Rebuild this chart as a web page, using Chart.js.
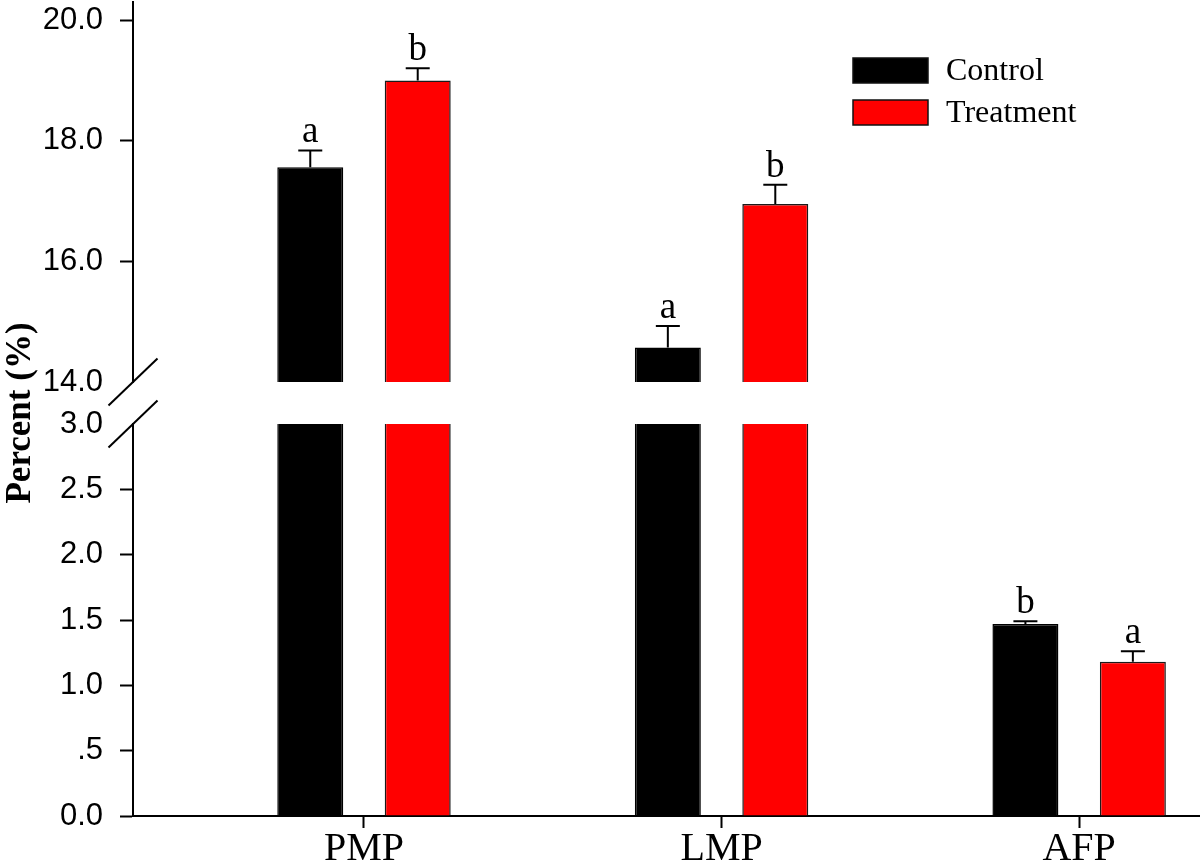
<!DOCTYPE html>
<html>
<head>
<meta charset="utf-8">
<script src="https://cdn.jsdelivr.net/npm/chart.js@4.4.1/dist/chart.umd.min.js"></script>
<style>
  html, body { margin: 0; padding: 0; background: #fff; }
  #wrap { position: relative; width: 1200px; height: 864px; overflow: hidden; background: #fff; }
  #wrap canvas { position: absolute; left: 0; top: 0; }
</style>
</head>
<body>
<div id="wrap">
  <canvas id="upper" width="1200" height="864"></canvas>
  <canvas id="lower" width="1200" height="864"></canvas>
</div>
<script>
// ---------------- data ----------------
const categories = ['PMP', 'LMP', 'AFP'];
const seriesNames = ['Control', 'Treatment'];
const controlValues = [17.56, 14.57, 1.47];
const treatmentValues = [19.00, 16.95, 1.18];
const controlErrors = [0.28, 0.36, 0.02];
const treatmentErrors = [0.20, 0.32, 0.08];
const controlLetters = ['a', 'a', 'b'];
const treatmentLetters = ['b', 'b', 'a'];
const upperTickValues = [14, 16, 18, 20];
const upperTickLabels = ['14.0', '16.0', '18.0', '20.0'];
const lowerTickValues = [0, 0.5, 1, 1.5, 2, 2.5, 3];
const lowerTickLabels = ['0.0', '.5', '1.0', '1.5', '2.0', '2.5', '3.0'];
const yAxisTitle = 'Percent (%)';

// ---------------- styling ----------------
const SERIF = '"Liberation Serif", "Times New Roman", serif';
const SANS = '"Liberation Sans", Arial, sans-serif';
const seriesColors = ['#000000', '#ff0000'];
const seriesBorders = ['#000000', '#1a1a1a'];
const AXIS_LEFT = 133;

function makeDatasets() {
  const vals = [controlValues, treatmentValues];
  const errs = [controlErrors, treatmentErrors];
  const lets = [controlLetters, treatmentLetters];
  return seriesNames.map((name, s) => ({
    label: name,
    data: categories.map((c, i) => ({ x: i, y: vals[s][i] })),
    errors: errs[s],
    letters: lets[s],
    backgroundColor: seriesColors[s],
    borderColor: seriesBorders[s],
    borderWidth: 1.5,
    categoryPercentage: 0.601,
    barPercentage: 0.614,
    clip: 0
  }));
}

const errorBarPlugin = {
  id: 'errorBars',
  afterDatasetsDraw(chart) {
    const ctx = chart.ctx;
    const yScale = chart.scales.y;
    ctx.save();
    chart.data.datasets.forEach((ds, di) => {
      const meta = chart.getDatasetMeta(di);
      meta.data.forEach((bar, i) => {
        const v = ds.data[i].y;
        if (v < yScale.min || v > yScale.max) return;
        const e = ds.errors[i];
        const yTop = yScale.getPixelForValue(v + e);
        const yVal = yScale.getPixelForValue(v);
        ctx.strokeStyle = '#000';
        ctx.lineWidth = 2;
        ctx.beginPath();
        ctx.moveTo(bar.x, yVal);
        ctx.lineTo(bar.x, yTop);
        ctx.moveTo(bar.x - 12, yTop);
        ctx.lineTo(bar.x + 12, yTop);
        ctx.stroke();
        ctx.fillStyle = '#000';
        ctx.font = '37px ' + SERIF;
        ctx.textAlign = 'center';
        ctx.textBaseline = 'alphabetic';
        ctx.fillText(ds.letters[i], bar.x, yTop - 8);
      });
    });
    ctx.restore();
  }
};

const legendPlugin = {
  id: 'customLegend',
  afterDraw(chart) {
    const ctx = chart.ctx;
    ctx.save();
    chart.data.datasets.forEach((ds, i) => {
      const bx = 853, by = 58 + i * 42, bw = 75, bh = 25;
      ctx.fillStyle = ds.backgroundColor;
      ctx.fillRect(bx, by, bw, bh);
      ctx.strokeStyle = '#111';
      ctx.lineWidth = 1.5;
      ctx.strokeRect(bx, by, bw, bh);
      ctx.fillStyle = '#000';
      ctx.font = '32px ' + SERIF;
      ctx.textAlign = 'left';
      ctx.textBaseline = 'middle';
      ctx.fillText(ds.label, 946, by + bh / 2 + 1);
    });
    ctx.restore();
  }
};

function breakMark(ctx, cx, cy) {
  ctx.save();
  ctx.strokeStyle = '#000';
  ctx.lineWidth = 2;
  ctx.beginPath();
  ctx.moveTo(cx - 24.5, cy + 23.5);
  ctx.lineTo(cx + 24.5, cy - 23.5);
  ctx.stroke();
  ctx.restore();
}

const upperBreakPlugin = {
  id: 'upperBreak',
  afterDraw(chart) {
    const a = chart.chartArea;
    breakMark(chart.ctx, a.left, a.bottom);
  }
};

const lowerBreakPlugin = {
  id: 'lowerBreak',
  afterDraw(chart) {
    const a = chart.chartArea;
    breakMark(chart.ctx, a.left, a.top);
    const ctx = chart.ctx;
    ctx.save();
    ctx.translate(21, 413);
    ctx.rotate(-Math.PI / 2);
    ctx.fillStyle = '#000';
    ctx.font = 'bold 35px ' + SERIF;
    ctx.textAlign = 'center';
    ctx.textBaseline = 'middle';
    ctx.fillText(yAxisTitle, 0, 0);
    ctx.restore();
  }
};

function yScaleOptions(min, max, tickValues, tickLabels, hiddenTick) {
  return {
    type: 'linear',
    min: min,
    max: max,
    afterBuildTicks(scale) { scale.ticks = tickValues.map(v => ({ value: v })); },
    afterFit(scale) { scale.width = AXIS_LEFT; scale.paddingTop = 0; scale.paddingBottom = 0; },
    ticks: {
      callback: (v, idx) => tickLabels[idx],
      color: '#000',
      font: { family: SANS, size: 31 },
      padding: 17,
      autoSkip: false
    },
    grid: {
      drawOnChartArea: false,
      drawTicks: true,
      tickLength: 13,
      tickWidth: 2,
      tickColor: (ctx) => (ctx.tick && ctx.tick.value === hiddenTick) ? 'rgba(0,0,0,0)' : '#000'
    },
    border: { display: true, color: '#000', width: 2 }
  };
}

function xScaleOptions(show) {
  return {
    type: 'linear',
    min: -0.646,
    max: 2.338,
    offset: false,
    display: show,
    afterBuildTicks(scale) { scale.ticks = categories.map((c, i) => ({ value: i })); },
    afterFit(scale) { if (show) { scale.height = 48; } scale.paddingLeft = 0; scale.paddingRight = 0; },
    ticks: {
      callback: (v, idx) => categories[idx],
      color: '#000',
      font: { family: SERIF, size: 40, lineHeight: 1 },
      padding: 1,
      maxRotation: 0,
      autoSkip: false
    },
    grid: {
      offset: false,
      drawOnChartArea: false,
      drawTicks: true,
      tickLength: 12,
      tickWidth: 2,
      tickColor: '#000'
    },
    border: { display: true, color: '#000', width: 2 }
  };
}

const common = {
  responsive: false,
  animation: false,
  devicePixelRatio: 1,
  plugins: { legend: { display: false }, tooltip: { enabled: false } }
};

new Chart(document.getElementById('upper'), {
  type: 'bar',
  data: { datasets: makeDatasets() },
  options: Object.assign({}, common, {
    layout: { padding: { top: 2, bottom: 482, left: 0, right: 0 } },
    scales: {
      x: xScaleOptions(false),
      y: yScaleOptions(14, 20.3, upperTickValues, upperTickLabels, 14)
    }
  }),
  plugins: [errorBarPlugin, legendPlugin, upperBreakPlugin]
});

new Chart(document.getElementById('lower'), {
  type: 'bar',
  data: { datasets: makeDatasets() },
  options: Object.assign({}, common, {
    layout: { padding: { top: 424, bottom: 0, left: 0, right: 0 } },
    scales: {
      x: xScaleOptions(true),
      y: yScaleOptions(0, 3, lowerTickValues, lowerTickLabels, 3)
    }
  }),
  plugins: [errorBarPlugin, lowerBreakPlugin]
});
</script>
</body>
</html>
